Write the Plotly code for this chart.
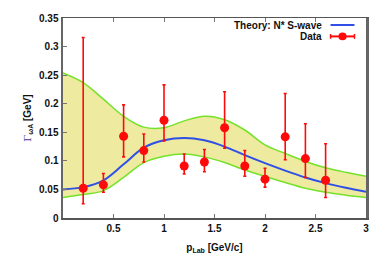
import plotly.graph_objects as go

# Theory band and central curve
curve_x = [0.0, 0.2, 0.4, 0.6, 0.8, 1.0, 1.2, 1.4, 1.6, 1.8, 2.0, 2.2, 2.4, 2.6, 2.8, 3.0]
theory = [0.050, 0.054, 0.066, 0.094, 0.123, 0.136, 0.140, 0.136, 0.125, 0.110, 0.096, 0.083, 0.071, 0.061, 0.053, 0.046]
band_low = [0.036, 0.041, 0.048, 0.071, 0.097, 0.108, 0.112, 0.107, 0.097, 0.084, 0.073, 0.062, 0.052, 0.045, 0.040, 0.036]
band_high = [0.254, 0.237, 0.208, 0.178, 0.159, 0.158, 0.170, 0.178, 0.172, 0.154, 0.128, 0.113, 0.099, 0.088, 0.080, 0.073]

# Data
data_x = [0.2, 0.4, 0.6, 0.8, 1.0, 1.2, 1.4, 1.6, 1.8, 2.0, 2.2, 2.4, 2.6]
data_y = [0.052, 0.058, 0.143, 0.118, 0.171, 0.091, 0.098, 0.158, 0.091, 0.068, 0.142, 0.104, 0.066]
err_hi = [0.316, 0.078, 0.198, 0.147, 0.233, 0.112, 0.120, 0.221, 0.118, 0.087, 0.218, 0.165, 0.130]
err_lo = [0.025, 0.045, 0.107, 0.098, 0.135, 0.077, 0.081, 0.122, 0.073, 0.054, 0.102, 0.071, 0.036]

plus = [h - y for h, y in zip(err_hi, data_y)]
minus = [y - l for l, y in zip(err_lo, data_y)]

fill_col = "rgba(238,234,160,1)"
green = "#74e22a"
blue = "#2f4fe6"
red = "#ff0a0a"

fig = go.Figure()
fig.add_trace(go.Scatter(x=curve_x, y=band_low, mode="lines", line=dict(color=green, width=1.5, shape="spline"),
                         showlegend=False, hoverinfo="skip"))
fig.add_trace(go.Scatter(x=curve_x, y=band_high, mode="lines", line=dict(color=green, width=1.5, shape="spline"),
                         fill="tonexty", fillcolor=fill_col, showlegend=False, hoverinfo="skip"))
fig.add_trace(go.Scatter(x=curve_x, y=theory, mode="lines", line=dict(color=blue, width=2, shape="spline"),
                         showlegend=False))
fig.add_trace(go.Scatter(x=data_x, y=data_y, mode="markers",
                         marker=dict(color=red, size=9),
                         error_y=dict(type="data", symmetric=False, array=plus, arrayminus=minus,
                                      color=red, thickness=1.6, width=1.5),
                         showlegend=False))

font_b = dict(family="Liberation Sans, Arial, sans-serif", size=10, color="#111111")

# Legend (gnuplot style: text right, sample after)
leg_items = [("Theory: N* S-wave", blue, False), ("Data", red, True)]
ys = [0.965, 0.908]
for (txt, col, mk), yy in zip(leg_items, ys):
    fig.add_annotation(x=0.86, y=yy, xref="paper", yref="paper", text="<b>" + txt + "</b>",
                       showarrow=False, xanchor="right", yanchor="middle", font=font_b)
    fig.add_shape(type="line", xref="paper", yref="paper", x0=0.883, x1=0.962, y0=yy, y1=yy,
                  line=dict(color=col, width=2))
    if mk:
        fig.add_shape(type="circle", xref="paper", yref="paper", x0=0.9225 - 0.0135, x1=0.9225 + 0.0135,
                      y0=yy - 0.019, y1=yy + 0.019, fillcolor=red, line=dict(color=red, width=0))
        for ex in (0.883, 0.962):
            fig.add_shape(type="line", xref="paper", yref="paper", x0=ex, x1=ex, y0=yy - 0.012, y1=yy + 0.012,
                          line=dict(color=col, width=1.5))

fig.update_layout(
    width=381, height=264,
    margin=dict(l=63, r=13, t=12, b=43),
    paper_bgcolor="white", plot_bgcolor="white",
    font=font_b,
    showlegend=False,
)
fig.update_xaxes(range=[0, 3], tickvals=[0.5, 1, 1.5, 2, 2.5, 3], ticktext=["<b>0.5</b>", "<b>1</b>", "<b>1.5</b>", "<b>2</b>", "<b>2.5</b>", "<b>3</b>"],
                 ticks="inside", ticklen=4, tickcolor="#777", showline=True, linecolor="#555", linewidth=1.5,
                 mirror="ticks", showgrid=False, zeroline=False,
                 title=dict(text="<b>p<sub>Lab</sub> [GeV/c]</b>", standoff=11, font=font_b))
yt = [0, 0.05, 0.1, 0.15, 0.2, 0.25, 0.3, 0.35]
fig.update_yaxes(range=[0, 0.35], tickvals=yt, ticktext=["<b>" + t + "</b>" for t in ["0", "0.05", "0.1", "0.15", "0.2", "0.25", "0.3", "0.35"]],
                 ticks="inside", ticklen=4, tickcolor="#777", showline=True, linecolor="#666", linewidth=2.5,
                 mirror=True, showgrid=False, zeroline=False,
                 title=dict(text="<span style='font-family:DejaVu Serif;color:#4a3a8a'>Γ</span><sub><b>ωA</b></sub><b> [GeV]</b>",
                            standoff=6, font=font_b))

fig.write_html("out.html", config={"displayModeBar": False, "staticPlot": True},
               post_script="document.body.style.margin='0';document.body.style.padding='0';")
